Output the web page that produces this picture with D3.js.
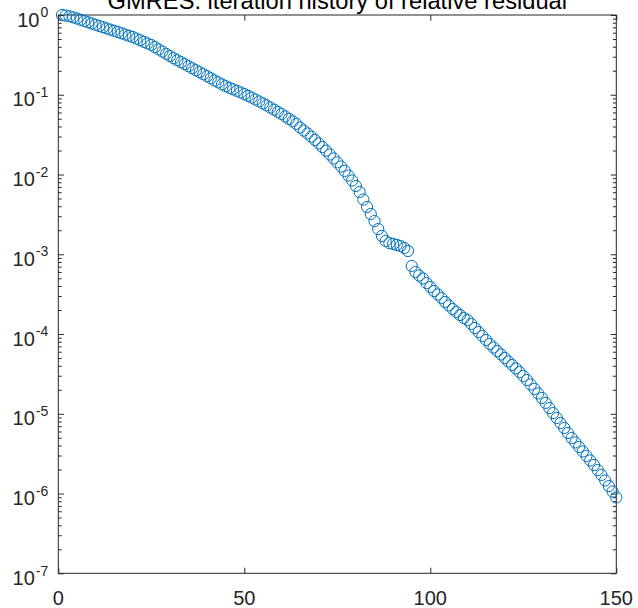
<!DOCTYPE html>
<html>
<head>
<meta charset="utf-8">
<script src="https://cdn.jsdelivr.net/npm/d3@7"></script>
<style>
	body { margin: 0; background: #fff; }
	svg { display: block; font-family: "Liberation Sans", Arial, sans-serif; }
</style>
</head>
<body>
<div class="chart"></div>
<script>
// iteration numbers and relative residual
const iterations = d3.range(1, 151);
const relres = [
	1.0, 0.986, 0.963, 0.936, 0.904, 0.871, 0.841, 0.810, 0.782, 0.754,
	0.728, 0.703, 0.679, 0.656, 0.634, 0.612, 0.590, 0.569, 0.548, 0.530,
	0.506, 0.483, 0.461, 0.440, 0.421, 0.395, 0.370, 0.348, 0.326, 0.306,
	0.287, 0.271, 0.256, 0.242, 0.228, 0.215, 0.203, 0.192, 0.181, 0.171,
	0.161, 0.151, 0.143, 0.135, 0.128, 0.122, 0.117, 0.112, 0.107, 0.102,
	0.0970, 0.0921, 0.0872, 0.0825, 0.0779, 0.0735, 0.0692, 0.0651, 0.0611, 0.0574,
	0.0535, 0.0500, 0.0465, 0.0432, 0.0389, 0.0356, 0.0327, 0.0298, 0.0271, 0.0245,
	0.0221, 0.0199, 0.0178, 0.0159, 0.0142, 0.0126, 0.0111, 0.00969, 0.00841, 0.00718,
	0.00604, 0.00486, 0.00392, 0.00320, 0.00261, 0.00207, 0.00170, 0.00147, 0.00138, 0.00135,
	0.00131, 0.00127, 0.00120, 0.00110, 7.13e-4, 5.99e-4, 5.42e-4, 4.97e-4, 4.36e-4, 3.89e-4,
	3.46e-4, 3.13e-4, 2.83e-4, 2.52e-4, 2.28e-4, 2.06e-4, 1.89e-4, 1.73e-4, 1.59e-4, 1.50e-4,
	1.34e-4, 1.19e-4, 1.06e-4, 9.45e-5, 8.42e-5, 7.50e-5, 6.78e-5, 6.13e-5, 5.54e-5, 5.01e-5,
	4.53e-5, 4.09e-5, 3.70e-5, 3.34e-5, 2.98e-5, 2.65e-5, 2.33e-5, 2.05e-5, 1.80e-5, 1.58e-5,
	1.37e-5, 1.18e-5, 1.02e-5, 8.86e-6, 7.66e-6, 6.64e-6, 5.74e-6, 4.97e-6, 4.37e-6, 3.84e-6,
	3.37e-6, 2.96e-6, 2.60e-6, 2.28e-6, 1.97e-6, 1.71e-6, 1.46e-6, 1.24e-6, 1.06e-6, 8.93e-7
];
const xTicks = [0, 50, 100, 150];
const yExponents = [0, -1, -2, -3, -4, -5, -6, -7];
const titleText = "GMRES: iteration history of relative residual";

const width = 638, height = 608;
const margin = { top: 15, right: 21.7, bottom: 34.7, left: 58.3 };
const ink = "#262626";
const majorLen = 5.6, minorLen = 3.4;

const x = d3.scaleLinear()
	.domain([0, 150])
	.range([margin.left, width - margin.right]);

const y = d3.scaleLog()
	.domain([1e-7, 1])
	.range([height - margin.bottom, margin.top]);

const majorY = yExponents.map(e => Math.pow(10, e));
const minorY = [];
yExponents.slice(0, -1).forEach(e => {
	for (let m = 2; m <= 9; m++) minorY.push(m * Math.pow(10, e - 1));
});

const svg = d3.select(".chart")
	.append("svg")
	.attr("width", width)
	.attr("height", height)
	.attr("viewBox", [0, 0, width, height]);

// ticks on all four sides, pointing inward
function styleAxis(g) {
	g.select(".domain").remove();
	g.selectAll(".tick line").attr("stroke", ink);
	g.selectAll(".tick text").remove();
}

svg.append("g")
	.attr("transform", `translate(0,${y.range()[0]})`)
	.call(d3.axisBottom(x).tickValues(xTicks).tickSizeInner(-majorLen).tickSizeOuter(0))
	.call(styleAxis);

svg.append("g")
	.attr("transform", `translate(0,${margin.top})`)
	.call(d3.axisTop(x).tickValues(xTicks).tickSizeInner(-majorLen).tickSizeOuter(0))
	.call(styleAxis);

[[d3.axisLeft, margin.left], [d3.axisRight, width - margin.right]].forEach(([axis, pos]) => {
	svg.append("g")
		.attr("transform", `translate(${pos},0)`)
		.call(axis(y).tickValues(majorY).tickSizeInner(-majorLen).tickSizeOuter(0))
		.call(styleAxis);
	svg.append("g")
		.attr("transform", `translate(${pos},0)`)
		.call(axis(y).tickValues(minorY).tickSizeInner(-minorLen).tickSizeOuter(0))
		.call(styleAxis);
});

svg.append("rect")
	.attr("x", x(0))
	.attr("y", y(1))
	.attr("width", x(150) - x(0))
	.attr("height", y(1e-7) - y(1))
	.attr("fill", "none")
	.attr("stroke", ink)
	.attr("stroke-width", 1);

// x tick labels
svg.append("g")
	.attr("fill", ink)
	.attr("text-anchor", "middle")
	.style("font-size", "20px")
	.selectAll("text")
	.data(xTicks)
	.join("text")
	.attr("x", d => x(d))
	.attr("y", y(1e-7) + 31.7)
	.text(d => d);

// y tick labels as 10 with superscript exponent
const ylab = svg.append("g")
	.attr("fill", ink)
	.attr("text-anchor", "end")
	.selectAll("text")
	.data(yExponents)
	.join("text")
	.attr("x", margin.left - 10)
	.attr("y", d => y(Math.pow(10, d)) + 11.7);

ylab.append("tspan")
	.style("font-size", "20px")
	.text("10");

ylab.append("tspan")
	.attr("dy", -9.5)
	.attr("dx", 1)
	.style("font-size", "14px")
	.text(d => d);

svg.append("text")
	.attr("x", (x(0) + x(150)) / 2)
	.attr("y", 8.5)
	.attr("text-anchor", "middle")
	.attr("fill", "#000")
	.style("font-size", "23.7px")
	.text(titleText);

svg.append("g")
	.selectAll("circle")
	.data(relres)
	.join("circle")
	.attr("cx", (d, i) => x(iterations[i]))
	.attr("cy", d => y(d))
	.attr("r", 5.6)
	.attr("fill", "none")
	.attr("stroke", "#0072BD")
	.attr("stroke-width", 1);
</script>
</body>
</html>
